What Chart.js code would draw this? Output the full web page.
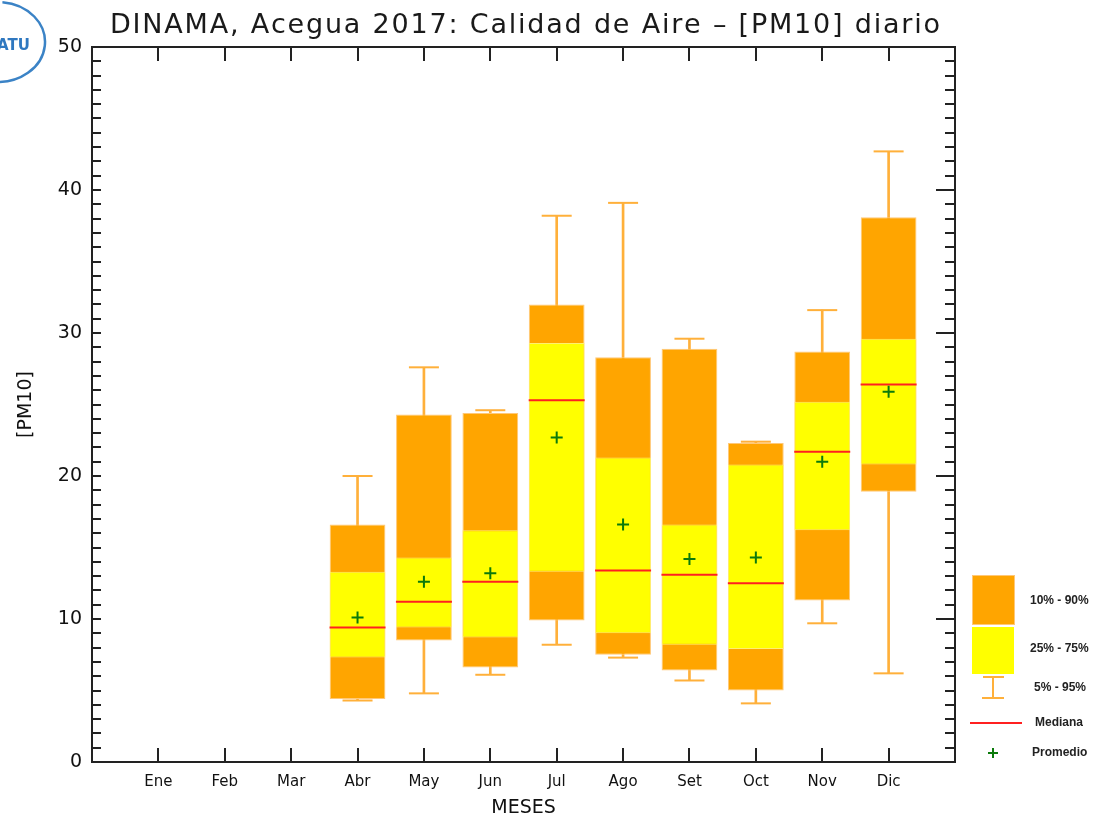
<!DOCTYPE html>
<html lang="es">
<head>
<meta charset="UTF-8">
<title>Calidad de Aire - PM10 diario</title>
<script src="https://cdn.jsdelivr.net/npm/chart.js"></script>
<style>
  html, body { margin: 0; padding: 0; background: #fff; }
  canvas { display: block; }
</style>
</head>
<body>
<canvas id="pmChart" width="1108" height="822"></canvas>
<script>
// PM10 diario por mes, Acegua 2017 (sin datos de enero a marzo)
const meses    = ['Ene', 'Feb', 'Mar', 'Abr', 'May', 'Jun', 'Jul', 'Ago', 'Set', 'Oct', 'Nov', 'Dic'];
const p5       = [null, null, null,  4.3,  4.8,  6.1,  8.2,  7.3,  5.7,  4.1,  9.7,  6.2];
const p10      = [null, null, null,  4.4,  8.5,  6.6,  9.9,  7.5,  6.4,  5.0, 11.3, 18.9];
const p25      = [null, null, null,  7.3,  9.4,  8.7, 13.3,  9.0,  8.2,  7.9, 16.2, 20.8];
const mediana  = [null, null, null,  9.4, 11.2, 12.6, 25.3, 13.4, 13.1, 12.5, 21.7, 26.4];
const p75      = [null, null, null, 13.3, 14.3, 16.2, 29.3, 21.3, 16.6, 20.8, 25.2, 29.6];
const p90      = [null, null, null, 16.6, 24.3, 24.4, 32.0, 28.3, 28.9, 22.3, 28.7, 38.1];
const p95      = [null, null, null, 20.0, 27.6, 24.6, 38.2, 39.1, 29.6, 22.4, 31.6, 42.7];
const promedio = [null, null, null, 10.1, 12.6, 13.2, 22.7, 16.6, 14.2, 14.3, 21.0, 25.9];
const yTicks   = [0, 10, 20, 30, 40, 50];

const NARANJA = '#FFA500';
const AMARILLO = '#FFFF00';
const BIGOTE = '#FFB03A';

// {x: mes, y: [desde, hasta]} para barras flotantes
function pares(a, b) {
  const out = [];
  meses.forEach((m, i) => { if (a[i] != null) out.push({ x: i + 1, y: [a[i], b[i]] }); });
  return out;
}
function puntos(a) {
  const out = [];
  meses.forEach((m, i) => { if (a[i] != null) out.push({ x: i + 1, y: a[i] }); });
  return out;
}

// marco con marcas hacia adentro, como en los graficos de la red de monitoreo
const marco = {
  id: 'marco',
  afterDatasetsDraw(chart) {
    const { ctx, chartArea: a, scales: { x, y } } = chart;
    ctx.save();
    ctx.strokeStyle = '#222';
    ctx.lineWidth = 2;
    ctx.strokeRect(a.left, a.top, a.right - a.left, a.bottom - a.top);
    ctx.beginPath();
    for (let v = 0; v <= 50; v++) {
      const py = Math.round(y.getPixelForValue(v));
      const mayor = v % 10 === 0;
      ctx.moveTo(a.left, py); ctx.lineTo(a.left + 9, py);
      ctx.moveTo(a.right, py); ctx.lineTo(a.right - (mayor ? 19 : 10), py);
    }
    meses.forEach((m, i) => {
      const px = Math.round(x.getPixelForValue(i + 1));
      ctx.moveTo(px, a.bottom); ctx.lineTo(px, a.bottom - 14);
      ctx.moveTo(px, a.top); ctx.lineTo(px, a.top + 14);
    });
    ctx.stroke();
    ctx.restore();
  }
};

// titulo, logo y leyenda
const adornos = {
  id: 'adornos',
  afterDraw(chart) {
    const ctx = chart.ctx;
    ctx.save();

    // titulo con espaciado ancho
    const titulo = 'DINAMA, Acegua 2017: Calidad de Aire \u2013 [PM10] diario';
    ctx.font = '27px "DejaVu Sans"';
    ctx.fillStyle = '#1a1a1a';
    ctx.textBaseline = 'alphabetic';
    const anchoDeseado = 830;
    const chars = [...titulo];
    const anchos = chars.map(c => ctx.measureText(c).width);
    const total = anchos.reduce((s, w) => s + w, 0);
    const esp = Math.max(0, (anchoDeseado - total) / (chars.length - 1));
    let cx = 525 - (total + esp * (chars.length - 1)) / 2;
    chars.forEach((c, i) => { ctx.fillText(c, cx, 33); cx += anchos[i] + esp; });

    // logo (recortado en el borde)
    ctx.strokeStyle = '#3b83c6';
    ctx.lineWidth = 2.5;
    ctx.beginPath();
    ctx.ellipse(-2, 42, 47, 40, 0, -Math.PI * 0.47, Math.PI * 0.62);
    ctx.stroke();
    ctx.font = 'bold 15px "DejaVu Sans"';
    ctx.fillStyle = '#2f78c0';
    ctx.fillText('ATU', -3, 50);

    // leyenda
    ctx.fillStyle = NARANJA;
    ctx.fillRect(972, 575, 43, 50);
    ctx.strokeStyle = '#FFC878';
    ctx.lineWidth = 1;
    ctx.strokeRect(972.5, 575.5, 42, 49);
    ctx.fillStyle = AMARILLO;
    ctx.fillRect(972, 627, 42, 47);

    ctx.strokeStyle = BIGOTE;
    ctx.lineWidth = 2;
    ctx.beginPath();
    ctx.moveTo(983, 677); ctx.lineTo(1004, 677);
    ctx.moveTo(993, 677); ctx.lineTo(993, 698);
    ctx.moveTo(982, 698); ctx.lineTo(1004, 698);
    ctx.stroke();

    ctx.strokeStyle = '#FF2020';
    ctx.beginPath();
    ctx.moveTo(970, 723); ctx.lineTo(1022, 723);
    ctx.stroke();

    ctx.strokeStyle = '#0B7A0B';
    ctx.beginPath();
    ctx.moveTo(988, 753); ctx.lineTo(998, 753);
    ctx.moveTo(993, 748); ctx.lineTo(993, 758);
    ctx.stroke();

    ctx.font = 'bold 12px "Liberation Sans"';
    ctx.fillStyle = '#222';
    ctx.textBaseline = 'middle';
    ctx.fillText('10% - 90%', 1030, 601);
    ctx.fillText('25% - 75%', 1030, 649);
    ctx.fillText('5% - 95%', 1034, 688);
    ctx.fillText('Mediana', 1035, 723);
    ctx.fillText('Promedio', 1032, 753);

    ctx.restore();
  }
};

new Chart(document.getElementById('pmChart'), {
  type: 'bar',
  data: {
    datasets: [
      {
        label: '5% - 95%',
        data: pares(p5, p95),
        backgroundColor: BIGOTE,
        barThickness: 2,
        grouped: false,
        order: 6
      },
      {
        type: 'scatter',
        label: 'topes',
        data: puntos(p5).concat(puntos(p95)),
        showLine: false,
        pointStyle: 'line',
        pointRadius: 15,
        pointBorderColor: BIGOTE,
        pointBorderWidth: 2,
        order: 5
      },
      {
        label: '10% - 90%',
        data: pares(p10, p90),
        backgroundColor: NARANJA,
        borderColor: '#FFC878',
        borderWidth: 1,
        borderSkipped: false,
        grouped: false,
        barPercentage: 1,
        categoryPercentage: 0.84,
        order: 4
      },
      {
        label: '25% - 75%',
        data: pares(p25, p75),
        backgroundColor: AMARILLO,
        borderColor: '#FFF070',
        borderWidth: 1,
        borderSkipped: false,
        grouped: false,
        barPercentage: 1,
        categoryPercentage: 0.84,
        order: 3
      },
      {
        type: 'scatter',
        label: 'Mediana',
        data: puntos(mediana),
        showLine: false,
        pointStyle: 'line',
        pointRadius: 28,
        pointBorderColor: '#FF2020',
        pointBorderWidth: 2,
        order: 2
      },
      {
        type: 'scatter',
        label: 'Promedio',
        data: puntos(promedio),
        showLine: false,
        pointStyle: 'cross',
        pointRadius: 6,
        pointBorderColor: '#0B7A0B',
        pointBorderWidth: 2,
        order: 1
      }
    ]
  },
  options: {
    responsive: false,
    animation: false,
    layout: { padding: { top: 47, right: 153, left: 0, bottom: 0 } },
    plugins: {
      legend: { display: false },
      tooltip: { enabled: false }
    },
    scales: {
      x: {
        type: 'linear',
        min: 0,
        max: 13,
        offset: false,
        grid: { display: false, drawTicks: false },
        border: { display: false },
        ticks: {
          stepSize: 1,
          autoSkip: false,
          maxRotation: 0,
          padding: 11,
          color: '#111',
          font: { family: 'DejaVu Sans', size: 15 },
          callback: v => meses[Math.round(v) - 1] || ''
        },
        title: {
          display: true,
          text: 'MESES',
          color: '#111',
          font: { family: 'DejaVu Sans', size: 19 },
          padding: { top: 0, bottom: 3 }
        },
        afterFit: s => { s.height = 60; }
      },
      y: {
        min: 0,
        max: 50,
        grid: { display: false, drawTicks: false },
        border: { display: false },
        ticks: {
          stepSize: 1,
          autoSkip: false,
          maxTicksLimit: 60,
          padding: 10,
          color: '#111',
          font: { family: 'DejaVu Sans', size: 19 },
          callback: v => yTicks.includes(v) ? v : ''
        },
        title: {
          display: true,
          text: '[PM10]',
          color: '#111',
          font: { family: 'DejaVu Sans', size: 19 },
          padding: { top: 15 }
        },
        afterFit: s => { s.width = 92; }
      }
    }
  },
  plugins: [marco, adornos]
});
</script>
</body>
</html>
